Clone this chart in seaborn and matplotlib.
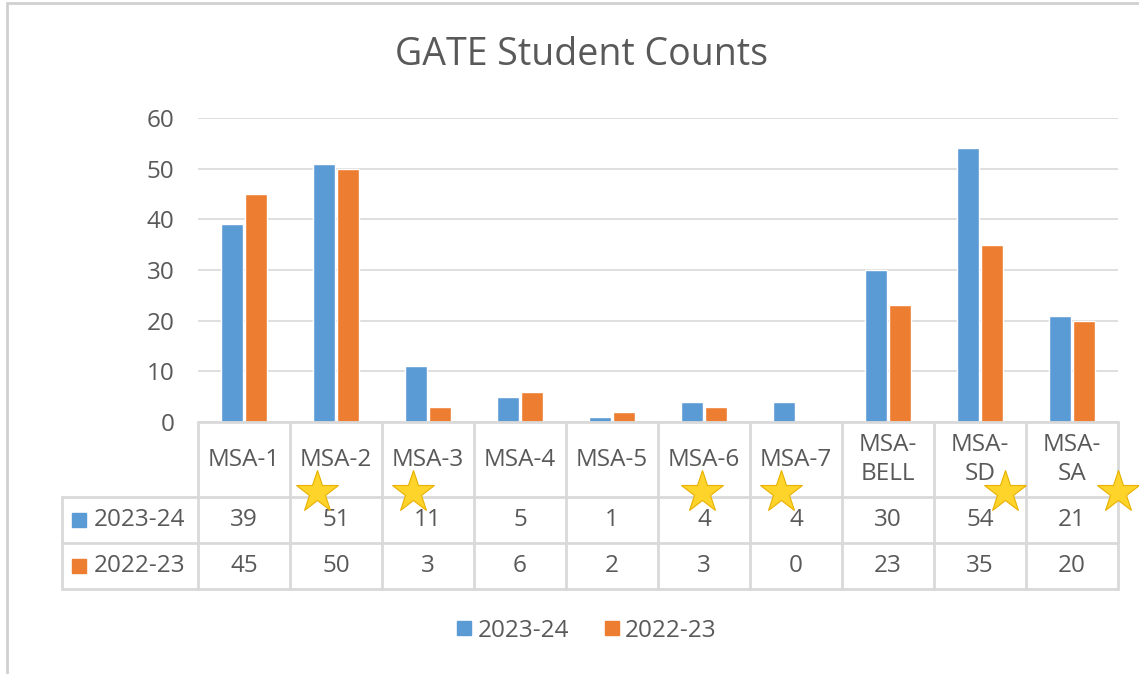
import seaborn as sns
import matplotlib.pyplot as plt
import pandas as pd
from matplotlib.lines import Line2D

# data
categories = ["MSA-1", "MSA-2", "MSA-3", "MSA-4", "MSA-5", "MSA-6", "MSA-7",
              "MSA-\nBELL", "MSA-\nSD", "MSA-\nSA"]
series_names = ["2023-24", "2022-23"]
counts_2324 = [39, 51, 11, 5, 1, 4, 4, 30, 54, 21]
counts_2223 = [45, 50, 3, 6, 2, 3, 0, 23, 35, 20]
# stars drawn by hand under some columns (column index, shift)
star_cols = [1, 2, 5, 6, 8, 9]
star_shift = [-0.21, -0.16, -0.02, -0.16, 0.27, 0.5]

blue = "#5B9BD5"
orange = "#ED7D31"
txt = "#595959"
line_c = "#D9D9D9"
fs = 17.5

sns.set_theme(style="white")
plt.rcParams['font.family'] = ['Open Sans', 'DejaVu Sans']

df = pd.DataFrame({
    "cat": categories * 2,
    "Season": [series_names[0]] * len(categories) + [series_names[1]] * len(categories),
    "count": counts_2324 + counts_2223,
})

fig = plt.figure(figsize=(11.39, 6.74), dpi=100)
W, H = 1139, 674
left, right = 198 / W, 1118 / W
ax = fig.add_axes([left, 1 - 422 / H, right - left, (422 - 118) / H])
tax = fig.add_axes([left, 1 - 589 / H, right - left, (589 - 422) / H])

sns.barplot(data=df, x="cat", y="count", hue="Season", palette=[blue, orange],
            width=0.52, gap=0.1, ax=ax, legend=False, saturation=1)
ax.set_xlim(-0.5, len(categories) - 0.5)
ax.set_ylim(0, 60)
ax.set_yticks(range(0, 61, 10))
ax.yaxis.grid(True, color=line_c, lw=1.2)
ax.set_axisbelow(True)
ax.set_xticks([])
ax.set_xlabel("")
ax.set_ylabel("")
for s in ax.spines.values():
    s.set_visible(False)
ax.tick_params(axis="y", labelsize=fs, labelcolor=txt, length=0, pad=17)

# data table below the plot
tax.set_xlim(-0.5, len(categories) - 0.5)
tax.set_ylim(0, 1)
tax.axis("off")
x0 = -0.5 - 136 / 92
r1 = 1 - 75 / 167
r2 = r1 - 46 / 167
lk = dict(color=line_c, lw=2, clip_on=False)
tax.plot([-0.5, len(categories) - 0.5], [1, 1], **lk)
for yy in [r1, r2, 0]:
    tax.plot([x0, len(categories) - 0.5], [yy, yy], **lk)
for k in range(len(categories) + 1):
    tax.plot([k - 0.5, k - 0.5], [0, 1], **lk)
tax.plot([x0, x0], [0, r1], **lk)

for i, c in enumerate(categories):
    tax.text(i, (1 + r1) / 2, c, ha="center", va="center", fontsize=fs,
             color=txt, linespacing=1.25)
    tax.text(i, (r1 + r2) / 2, str(counts_2324[i]), ha="center", va="center",
             fontsize=fs, color=txt)
    tax.text(i, r2 / 2, str(counts_2223[i]), ha="center", va="center",
             fontsize=fs, color=txt)

for yy, name, col in [((r1 + r2) / 2, series_names[0], blue), (r2 / 2, series_names[1], orange)]:
    tax.plot([x0 + 0.18], [yy], marker="s", ms=10, color=col, clip_on=False, ls="")
    tax.text(x0 + 0.35, yy, name, ha="left", va="center", fontsize=fs, color=txt)

# gold stars
for c, sh in zip(star_cols, star_shift):
    tax.plot([c + sh], [r1 + 0.03], marker="*", ms=32,
             markerfacecolor="#FFD42A", markeredgecolor="#E8B000", mew=0.8,
             clip_on=False, ls="", zorder=5)

fig.text(581 / W, 1 - 55 / H, "GATE Student Counts", ha="center", va="center",
         fontsize=27, color=txt)

handles = [Line2D([], [], marker="s", ls="", color=blue, ms=10),
           Line2D([], [], marker="s", ls="", color=orange, ms=10)]
fig.legend(handles, series_names, loc="center", bbox_to_anchor=(585 / W, 1 - 631 / H),
           ncol=2, frameon=False, fontsize=fs, labelcolor=txt,
           handletextpad=0.1, columnspacing=1.3, handlelength=0.9)

# outer frame (top and left visible)
fig.add_artist(Line2D([7 / W, 7 / W], [0, 1 - 3 / H], color="#D0D0D0", lw=2))
fig.add_artist(Line2D([7 / W, 1], [1 - 3 / H, 1 - 3 / H], color="#D0D0D0", lw=2))

fig.savefig("out.png", dpi=100, facecolor="white")
